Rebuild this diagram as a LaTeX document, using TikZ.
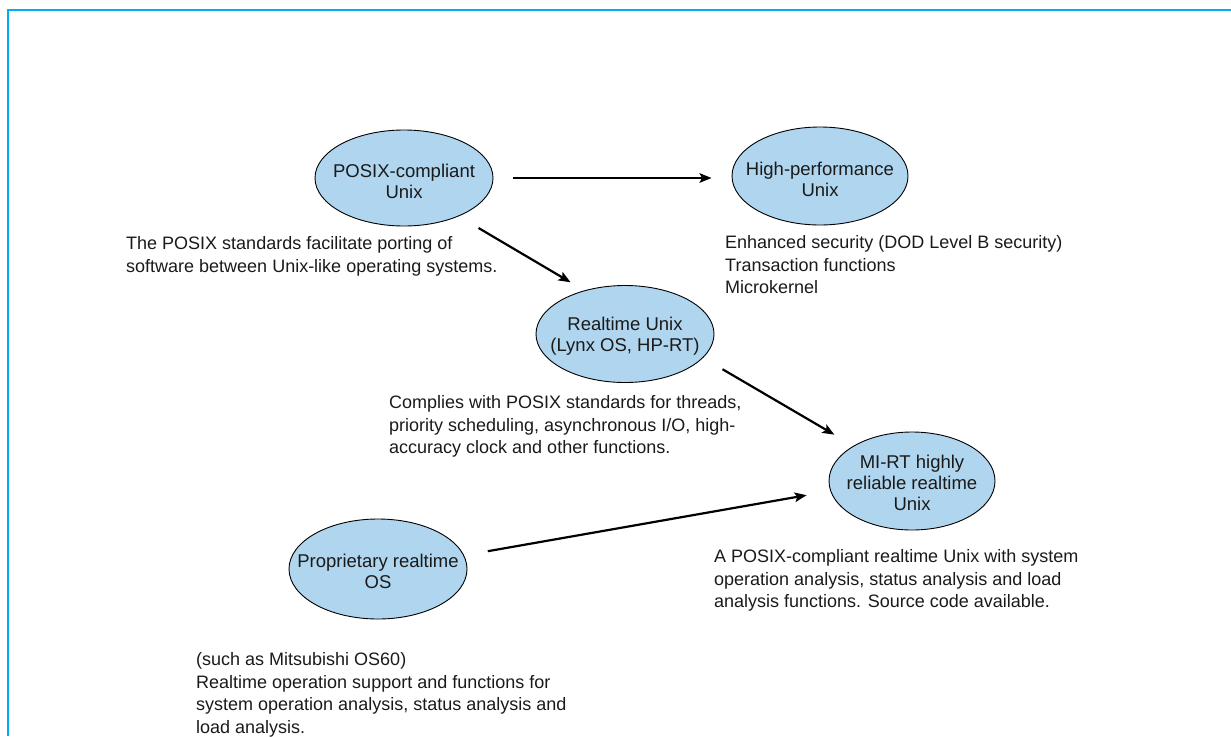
\documentclass[tikz,border=0pt]{standalone}
\usepackage{fontspec}
\setmainfont{Liberation Sans}
\usetikzlibrary{shapes.geometric,arrows.meta}
\definecolor{framecyan}{HTML}{00AEEF}
\definecolor{ellfill}{HTML}{B0D5EE}
\definecolor{txt}{HTML}{1A1A1A}
\tikzset{
  oval/.style={ellipse, draw=black, line width=0.9pt, fill=ellfill, inner sep=0pt},
  ovaltext/.style={align=center, text=txt, inner sep=0pt, font=\fontsize{18.5}{21}\selectfont},
  note/.style={anchor=north west, inner sep=0pt, align=left, text=txt,
    font=\fontsize{18}{22.5}\selectfont},
  conn/.style={line width=2.2pt, -{Stealth[length=12pt,width=9.5pt,inset=2.5pt]}},
}
\begin{document}
\begin{tikzpicture}[x=1pt,y=-1pt]
\useasboundingbox (0,0) rectangle (1231,736);
\draw[framecyan, line width=2pt] (8,736) -- (8,10) -- (1231,10);

\node[oval, minimum width=178pt, minimum height=96pt] (posix) at (404,178) {};
\node[ovaltext] (posixt) at (404,181) {POSIX-compliant\\Unix};
\node[oval, minimum width=176pt, minimum height=98pt] (hp) at (820,176) {};
\node[ovaltext] (hpt) at (820,179) {High-performance\\Unix};
\node[oval, minimum width=178pt, minimum height=97pt] (rt) at (625,334) {};
\node[ovaltext] (rtt) at (625,336) {Realtime Unix\\(Lynx OS, HP-RT)};
\node[oval, minimum width=166pt, minimum height=98pt] (mirt) at (912,481) {};
\node[ovaltext] (mirtt) at (912,483) {MI-RT highly\\reliable realtime\\Unix};
\node[oval, minimum width=178pt, minimum height=100pt] (prop) at (378,569) {};
\node[ovaltext] (propt) at (378,571) {Proprietary realtime\\OS};

\node[note] (t1) at (126,234) {\strut The POSIX standards facilitate porting of\\software between Unix-like operating systems.};
\node[note] (t2) at (725,233) {\strut Enhanced security (DOD Level B security)\\Transaction functions\\Microkernel};
\node[note] (t3) at (389,393) {\strut Complies with POSIX standards for threads,\\priority scheduling, asynchronous I/O, high-\\accuracy clock and other functions.};
\node[note] (t4) at (714,547) {\strut A POSIX-compliant realtime Unix with system\\operation analysis, status analysis and load\\analysis functions. Source code available.};
\node[note] (t5) at (196,650) {\strut (such as Mitsubishi OS60)\\Realtime operation support and functions for\\system operation analysis, status analysis and\\load analysis.};

\draw[conn, shorten <=20pt, shorten >=20pt] (posix.east) -- (hp.west |- posix.east);
\draw[conn, shorten <=23pt, shorten >=16pt] (posix.-35) -- (rt.133);
\draw[conn, shorten <=22.5pt, shorten >=22pt] (rt.-17) -- (mirt.149.5);
\draw[conn, shorten <=24pt, shorten >=24pt] (prop.9) -- (mirt.-173);
\end{tikzpicture}
\end{document}
